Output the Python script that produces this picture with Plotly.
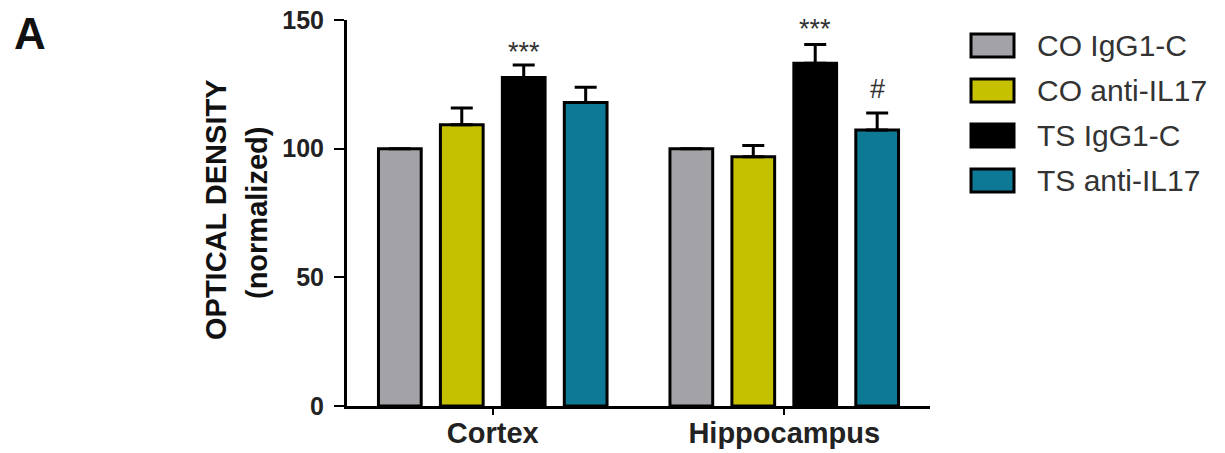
import plotly.graph_objects as go

# ---- data ----
regions = ["Cortex", "Hippocampus"]
groups = ["CO IgG1-C", "CO anti-IL17", "TS IgG1-C", "TS anti-IL17"]
means = {
    "CO IgG1-C":    [100.0, 100.0],
    "CO anti-IL17": [109.3, 96.9],
    "TS IgG1-C":    [127.7, 133.2],
    "TS anti-IL17": [117.9, 107.3],
}
sems = {
    "CO IgG1-C":    [0.0, 0.0],
    "CO anti-IL17": [6.5, 4.3],
    "TS IgG1-C":    [4.8, 7.3],
    "TS anti-IL17": [6.0, 6.6],
}
colors = ["#a3a3a7", "#c5c100", "#000000", "#0e7995"]
# significance marks: (region index, group index, label, y value)
marks = [(0, 2, "***", 137.5), (1, 2, "***", 146.5), (1, 3, "#", 123)]

# ---- layout geometry ----
W, H = 1225, 453
L, R, T, B = 347, 295, 20, 47
pw = W - L - R
ph = H - T - B

def px_x(p):
    return (p - L) / pw

def px_y(p):
    return 1 - (p - T) / ph

FONT = "Liberation Sans, Arial, sans-serif"
bargap = 0.15
ngroups = len(groups)
slot = (1 - bargap) / ngroups

fig = go.Figure()
xpos = list(range(len(regions)))
for gi, g in enumerate(groups):
    fig.add_trace(go.Bar(
        x=xpos, y=means[g], name=g,
        marker=dict(color=colors[gi], line=dict(color="black", width=3)),
        error_y=dict(type="data", array=sems[g], arrayminus=[0] * len(regions),
                     symmetric=False, color="black", thickness=3, width=11,
                     visible=True),
        showlegend=False,
    ))

annotations = []
for ri, gi, lab, yv in marks:
    xoff = -(1 - bargap) / 2 + slot * (gi + 0.5)
    annotations.append(dict(
        x=xpos[ri] + xoff, y=yv, xref="x", yref="y", text=lab, showarrow=False,
        yanchor="middle",
        font=dict(family=FONT, size=27, color="#333333"),
    ))

# y-axis title (two lines)
annotations.append(dict(x=px_x(216), y=px_y(210), xref="paper", yref="paper",
                        text="<b>OPTICAL DENSITY</b>", textangle=-90, showarrow=False,
                        xanchor="center", yanchor="middle",
                        font=dict(family=FONT, size=29, color="#111111")))
annotations.append(dict(x=px_x(257), y=px_y(213), xref="paper", yref="paper",
                        text="<b>(normalized)</b>", textangle=-90, showarrow=False,
                        xanchor="center", yanchor="middle",
                        font=dict(family=FONT, size=29, color="#111111")))
# panel letter
annotations.append(dict(x=px_x(12), y=px_y(33), xref="paper", yref="paper",
                        text="<b>A</b>", showarrow=False, xanchor="left", yanchor="middle",
                        font=dict(family=FONT, size=44, color="#111111")))

# manual legend
shapes = []
row0, rowstep = 45.5, 45
for gi, g in enumerate(groups):
    cy = row0 + rowstep * gi
    shapes.append(dict(type="rect", xref="paper", yref="paper",
                       x0=px_x(971), x1=px_x(1014), y0=px_y(cy + 11.5), y1=px_y(cy - 11.5),
                       fillcolor=colors[gi], line=dict(color="black", width=3)))
    annotations.append(dict(x=px_x(1035), y=px_y(cy), xref="paper", yref="paper",
                            text=g, showarrow=False, xanchor="left", yanchor="middle",
                            font=dict(family=FONT, size=30, color="#333333")))

fig.update_layout(
    width=W, height=H,
    margin=dict(l=L, r=R, t=T, b=B, pad=0, autoexpand=False),
    paper_bgcolor="white", plot_bgcolor="white",
    barmode="group", bargap=bargap, bargroupgap=0.31,
    showlegend=False,
    annotations=annotations, shapes=shapes,
    xaxis=dict(range=[-0.5, 1.5], tickvals=xpos,
               ticktext=["<b>%s</b>" % r for r in regions],
               showline=True, linecolor="black", linewidth=3,
               ticks="outside", ticklen=6, tickwidth=2, tickcolor="black",
               showgrid=False, zeroline=False, automargin=False,
               ticklabelstandoff=-7,
               tickfont=dict(family=FONT, size=29, color="#222222")),
    yaxis=dict(range=[0, 150], tickvals=[0, 50, 100, 150],
               ticktext=["<b>0</b>", "<b>50</b>", "<b>100</b>", "<b>150</b>"],
               showline=True, linecolor="black", linewidth=3,
               ticks="outside", ticklen=10, tickwidth=2, tickcolor="black",
               showgrid=False, zeroline=False, automargin=False,
               ticklabelstandoff=5,
               tickfont=dict(family=FONT, size=25, color="#222222")),
)

fig.write_html("out.html", config={"displayModeBar": False},
               post_script="document.body.style.margin='0';")
